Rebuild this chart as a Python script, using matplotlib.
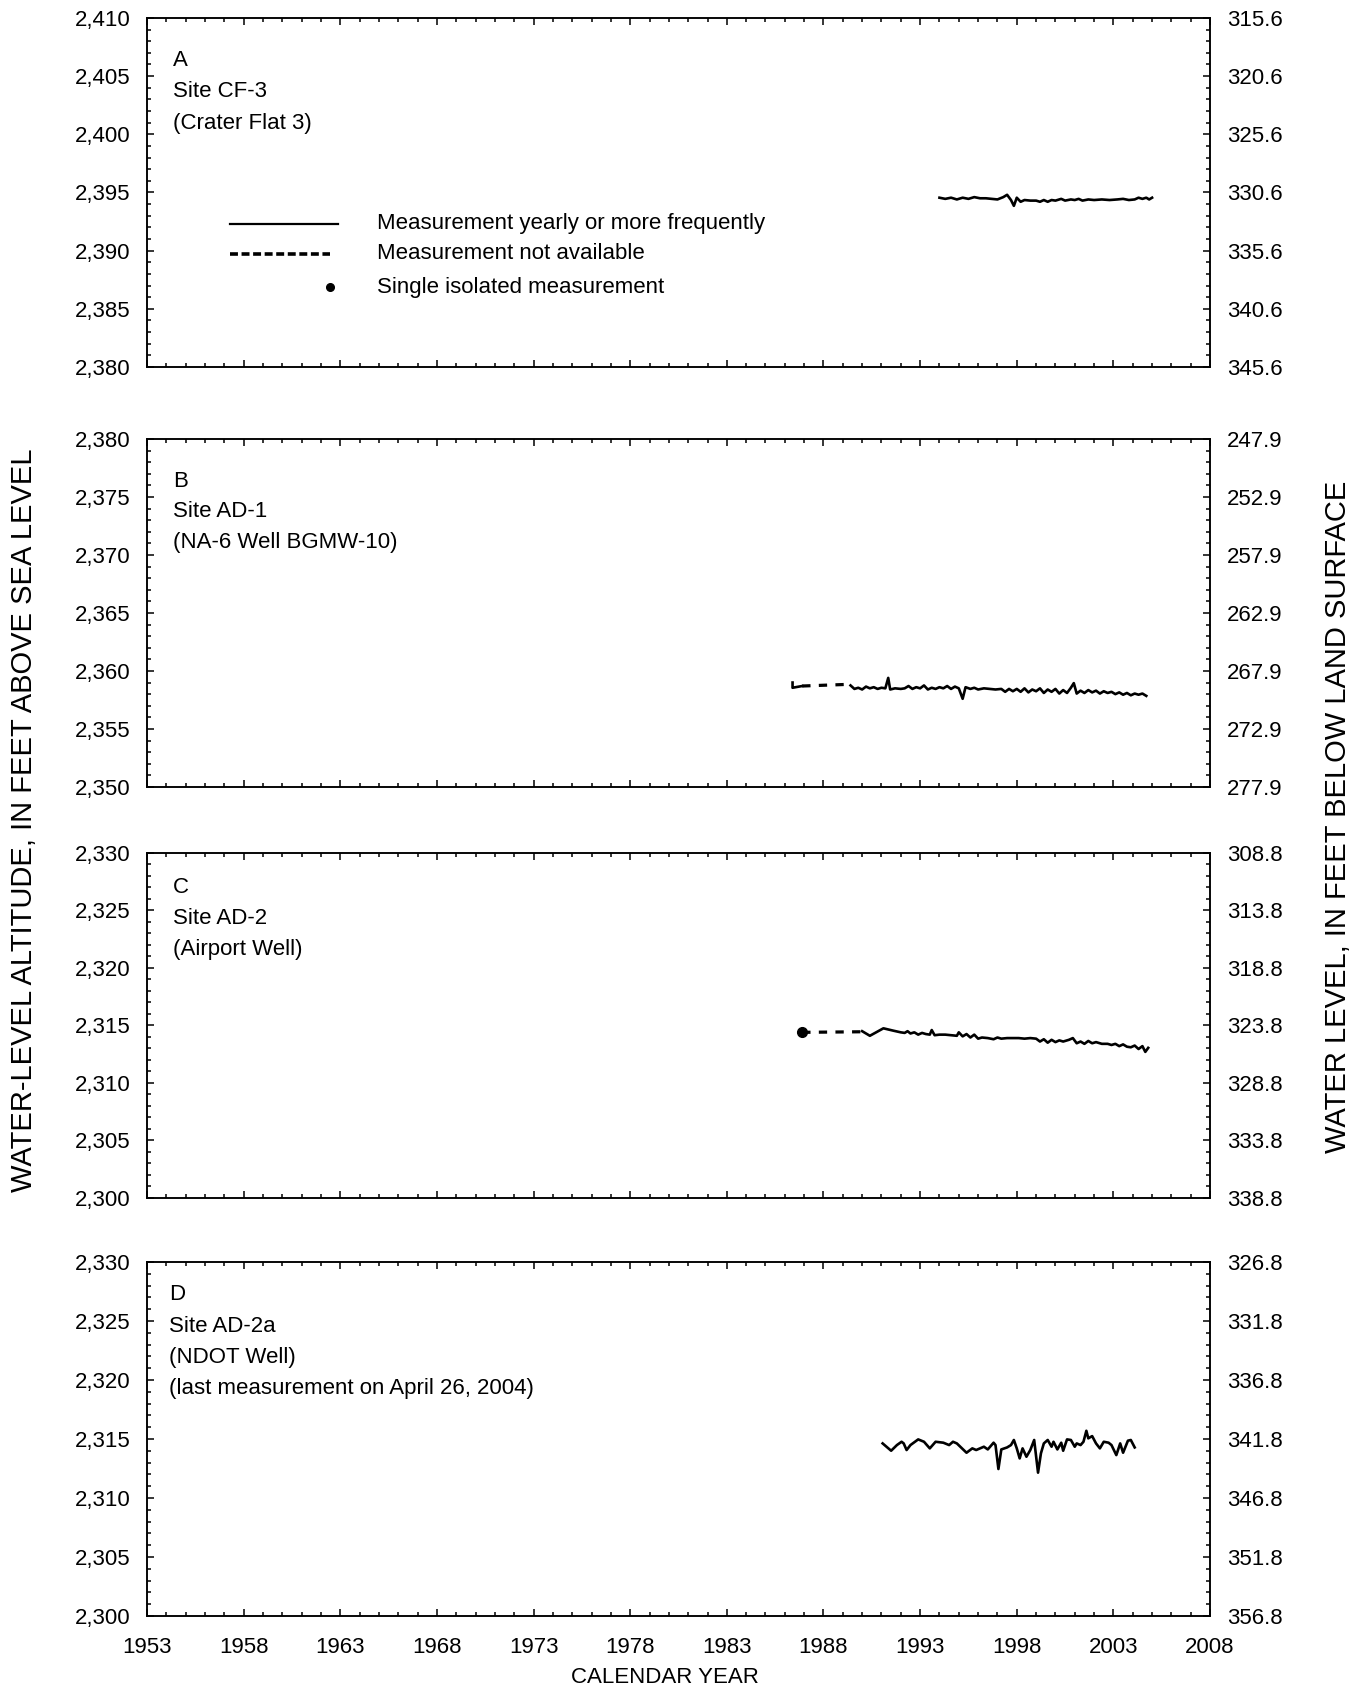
import matplotlib
matplotlib.use('Agg')
import matplotlib.pyplot as plt
from matplotlib.ticker import MultipleLocator, FixedLocator, FuncFormatter
import numpy as np

plt.rcParams['font.family'] = ['Liberation Sans', 'DejaVu Sans']

panel_ids = ['A', 'B', 'C', 'D']
panel_text = [
    ['A', 'Site CF-3', '(Crater Flat 3)'],
    ['B', 'Site AD-1', '(NA-6 Well BGMW-10)'],
    ['C', 'Site AD-2', '(Airport Well)'],
    ['D', 'Site AD-2a', '(NDOT Well)', '(last measurement on April 26, 2004)'],
]
alt_bottom = [2380, 2350, 2300, 2300]
alt_top = [2410, 2380, 2330, 2330]
depth_top = [315.6, 247.9, 308.8, 326.8]   # right axis value at top of panel

# A: CF-3
a_year = [1994.0, 1994.3, 1994.6, 1994.9, 1995.2, 1995.5, 1995.8, 1996.1, 1996.4, 1996.7,
          1997.0, 1997.3, 1997.5, 1997.7, 1997.85, 1998.0, 1998.2, 1998.4, 1998.7, 1999.0,
          1999.2, 1999.4, 1999.6, 1999.8, 2000.0, 2000.3, 2000.5, 2000.8, 2001.0, 2001.2,
          2001.4, 2001.7, 2002.0, 2002.4, 2002.8, 2003.2, 2003.5, 2003.8, 2004.1, 2004.3,
          2004.5, 2004.7, 2004.85, 2005.0]
a_alt = [2394.55, 2394.45, 2394.55, 2394.40, 2394.55, 2394.45, 2394.60, 2394.50, 2394.50, 2394.45,
         2394.40, 2394.60, 2394.80, 2394.35, 2393.85, 2394.55, 2394.20, 2394.35, 2394.30, 2394.30,
         2394.20, 2394.35, 2394.20, 2394.35, 2394.30, 2394.45, 2394.30, 2394.40, 2394.35, 2394.45,
         2394.30, 2394.40, 2394.35, 2394.40, 2394.35, 2394.40, 2394.45, 2394.35, 2394.40, 2394.55,
         2394.45, 2394.55, 2394.40, 2394.55]

# B: AD-1
b_early_year = [1986.4, 1986.4, 1986.9]
b_early_alt = [2359.0, 2358.55, 2358.7]
b_gap_year = [1986.9, 1989.4]
b_gap_alt = [2358.7, 2358.85]
b_year = [1989.4, 1989.6, 1989.8, 1990.0, 1990.2, 1990.4, 1990.6, 1990.8, 1991.0, 1991.2,
          1991.35, 1991.45, 1991.7, 1992.0, 1992.2, 1992.4, 1992.6, 1992.8, 1993.0, 1993.2,
          1993.4, 1993.6, 1993.8, 1994.0, 1994.2, 1994.4, 1994.6, 1994.8, 1995.0, 1995.2,
          1995.35, 1995.6, 1995.8, 1996.0, 1996.3, 1996.6, 1996.9, 1997.2, 1997.4, 1997.6,
          1997.8, 1998.0, 1998.2, 1998.4, 1998.6, 1998.8, 1999.0, 1999.2, 1999.4, 1999.6,
          1999.8, 2000.0, 2000.2, 2000.4, 2000.6, 2000.8, 2000.95, 2001.1, 2001.3, 2001.5,
          2001.7, 2001.9, 2002.1, 2002.3, 2002.5, 2002.7, 2002.9, 2003.1, 2003.3, 2003.5,
          2003.7, 2003.9, 2004.1, 2004.3, 2004.5, 2004.7]
b_alt = [2358.75, 2358.45, 2358.55, 2358.40, 2358.65, 2358.50, 2358.60, 2358.45, 2358.55, 2358.50,
         2359.40, 2358.40, 2358.50, 2358.45, 2358.50, 2358.70, 2358.45, 2358.60, 2358.50, 2358.75,
         2358.40, 2358.55, 2358.45, 2358.60, 2358.50, 2358.70, 2358.45, 2358.65, 2358.50, 2357.60,
         2358.60, 2358.45, 2358.55, 2358.40, 2358.50, 2358.45, 2358.40, 2358.45, 2358.20, 2358.45,
         2358.25, 2358.45, 2358.20, 2358.50, 2358.15, 2358.40, 2358.25, 2358.50, 2358.10, 2358.40,
         2358.20, 2358.45, 2358.05, 2358.35, 2358.10, 2358.55, 2358.95, 2358.05, 2358.30, 2358.10,
         2358.35, 2358.15, 2358.30, 2358.05, 2358.25, 2358.10, 2358.20, 2358.00, 2358.15, 2357.95,
         2358.10, 2357.90, 2358.05, 2357.95, 2358.05, 2357.85]

# C: AD-2
c_single_year = [1986.9]
c_single_alt = [2314.4]
c_gap_year = [1986.9, 1990.0]
c_gap_alt = [2314.4, 2314.45]
c_year = [1990.0, 1990.4, 1991.1, 1991.6, 1992.0, 1992.2, 1992.35, 1992.5, 1992.7, 1992.9,
          1993.1, 1993.3, 1993.5, 1993.6, 1993.75, 1994.0, 1994.3, 1994.6, 1994.9, 1995.0,
          1995.2, 1995.4, 1995.6, 1995.8, 1996.0, 1996.2, 1996.5, 1996.8, 1997.0, 1997.2,
          1997.5, 1997.8, 1998.1, 1998.4, 1998.7, 1999.0, 1999.2, 1999.4, 1999.6, 1999.8,
          2000.0, 2000.2, 2000.4, 2000.7, 2000.9, 2001.1, 2001.3, 2001.5, 2001.7, 2001.9,
          2002.1, 2002.4, 2002.7, 2002.9, 2003.1, 2003.3, 2003.5, 2003.7, 2003.9, 2004.1,
          2004.3, 2004.5, 2004.65, 2004.8]
c_alt = [2314.50, 2314.10, 2314.75, 2314.55, 2314.40, 2314.35, 2314.50, 2314.30, 2314.40, 2314.20,
         2314.35, 2314.25, 2314.20, 2314.60, 2314.15, 2314.20, 2314.20, 2314.15, 2314.10, 2314.40,
         2314.05, 2314.25, 2313.95, 2314.20, 2313.85, 2313.95, 2313.90, 2313.80, 2313.95, 2313.85,
         2313.90, 2313.90, 2313.90, 2313.85, 2313.90, 2313.85, 2313.60, 2313.80, 2313.50, 2313.75,
         2313.55, 2313.70, 2313.60, 2313.75, 2313.90, 2313.45, 2313.60, 2313.40, 2313.65, 2313.45,
         2313.55, 2313.40, 2313.40, 2313.30, 2313.40, 2313.20, 2313.35, 2313.15, 2313.10, 2313.25,
         2312.95, 2313.20, 2312.70, 2313.05]

# D: AD-2a
d_year = [1991.06, 1991.5, 1991.8, 1992.04, 1992.15, 1992.3, 1992.5, 1992.9, 1993.2, 1993.5,
          1993.8, 1994.2, 1994.5, 1994.7, 1994.9, 1995.4, 1995.7, 1995.9, 1996.3, 1996.5,
          1996.8, 1996.9, 1997.05, 1997.2, 1997.5, 1997.7, 1997.85, 1998.0, 1998.15, 1998.3,
          1998.5, 1998.7, 1998.9, 1999.1, 1999.25, 1999.4, 1999.6, 1999.8, 1999.9, 2000.1,
          2000.3, 2000.4, 2000.6, 2000.8, 2001.0, 2001.1, 2001.3, 2001.45, 2001.6, 2001.7,
          2001.9, 2002.1, 2002.3, 2002.5, 2002.75, 2002.9, 2003.15, 2003.35, 2003.5, 2003.75,
          2003.9, 2004.1]
d_alt = [2314.63, 2314.01, 2314.49, 2314.77, 2314.63, 2314.07, 2314.49, 2314.97, 2314.77, 2314.21,
         2314.77, 2314.69, 2314.49, 2314.77, 2314.63, 2313.84, 2314.21, 2314.07, 2314.35, 2314.12,
         2314.69, 2314.49, 2312.46, 2314.12, 2314.29, 2314.49, 2314.92, 2314.21, 2313.36, 2314.21,
         2313.50, 2314.07, 2314.92, 2312.15, 2313.79, 2314.63, 2314.92, 2314.35, 2314.77, 2314.12,
         2314.69, 2314.01, 2314.97, 2314.92, 2314.35, 2314.63, 2314.49, 2314.77, 2315.70, 2315.06,
         2315.25, 2314.63, 2314.21, 2314.77, 2314.69, 2314.49, 2313.64, 2314.63, 2313.84, 2314.86,
         2314.92, 2314.29]

x_lo, x_hi = 1953, 2008
x_major = list(range(1953, 2009, 5))

# ---- layout (figure fractions) ----
fig = plt.figure(figsize=(13.67, 16.92), dpi=100)
left, width = 0.1075, 0.7777
bottoms = [0.7831, 0.5349, 0.2920, 0.0449]
heights = [0.2063, 0.2057, 0.2039, 0.2092]
text_y0 = [0.877, 0.879, 0.899, 0.907]
text_dy = [0.089, 0.089, 0.090, 0.088]
text_x = [0.0245, 0.0245, 0.0245, 0.021]

lw = 1.9
dash = (2.6, 2.6)
fs = 16

axes = []
for i in range(4):
    ax = fig.add_axes([left, bottoms[i], width, heights[i]])
    ax.set_xlim(x_lo, x_hi)
    ax.set_ylim(alt_bottom[i], alt_top[i])
    ax.xaxis.set_major_locator(FixedLocator(x_major))
    ax.xaxis.set_minor_locator(MultipleLocator(1))
    ax.yaxis.set_major_locator(MultipleLocator(5))
    ax.yaxis.set_minor_locator(MultipleLocator(1))
    ax.yaxis.set_major_formatter(FuncFormatter(lambda v, p: '{:,.0f}'.format(v)))
    ax.tick_params(which='both', direction='in', top=True, bottom=True, left=True, right=False,
                   labelsize=fs, pad=12, width=1.1)
    ax.tick_params(which='major', length=5)
    ax.tick_params(which='minor', length=3.2)
    if i < 3:
        ax.tick_params(labelbottom=False)
    else:
        ax.tick_params(axis='x', pad=15)
    for s in ax.spines.values():
        s.set_linewidth(1.1)

    ax2 = ax.twinx()
    ax2.set_ylim(depth_top[i] + (alt_top[i] - alt_bottom[i]), depth_top[i])
    maj = np.arange(0, alt_top[i] - alt_bottom[i] + 0.1, 5) + depth_top[i]
    mnr = np.arange(0, alt_top[i] - alt_bottom[i] + 0.1, 1) + depth_top[i]
    ax2.yaxis.set_major_locator(FixedLocator(maj))
    ax2.yaxis.set_minor_locator(FixedLocator(mnr))
    ax2.yaxis.set_major_formatter(FuncFormatter(lambda v, p: '%.1f' % v))
    ax2.tick_params(which='both', direction='in', labelsize=fs, pad=12, width=1.1)
    ax2.tick_params(which='major', length=5)
    ax2.tick_params(which='minor', length=3.2)
    for s in ax2.spines.values():
        s.set_linewidth(1.1)

    for k, t in enumerate(panel_text[i]):
        ax.text(text_x[i], text_y0[i] - k * text_dy[i], t, transform=ax.transAxes,
                fontsize=fs, ha='left', va='center')
    axes.append(ax)

axA, axB, axC, axD = axes

# hydrographs
axA.plot(a_year, a_alt, color='black', lw=lw)

axB.plot(b_early_year, b_early_alt, color='black', lw=lw)
axB.plot(b_gap_year, b_gap_alt, color='black', lw=lw + 0.4, dashes=dash)
axB.plot(b_year, b_alt, color='black', lw=lw)

axC.plot(c_gap_year, c_gap_alt, color='black', lw=lw + 0.4, dashes=dash)
axC.plot(c_single_year, c_single_alt, 'o', color='black', ms=7)
axC.plot(c_year, c_alt, color='black', lw=lw)

axD.plot(d_year, d_alt, color='black', lw=lw)

# explanation (legend) in panel A
legend_labels = ['Measurement yearly or more frequently', 'Measurement not available',
                 'Single isolated measurement']
axA.plot([0.078, 0.180], [0.410, 0.410], color='black', lw=1.6, transform=axA.transAxes)
axA.plot([0.078, 0.172], [0.325, 0.325], color='black', lw=2.6, dashes=(2.2, 1.0),
         transform=axA.transAxes)
axA.plot([0.172], [0.229], 'o', color='black', ms=5.5, transform=axA.transAxes)
for k, (lab, yy) in enumerate(zip(legend_labels, [0.410, 0.325, 0.229])):
    axA.text(0.216, yy, lab, transform=axA.transAxes, fontsize=fs, ha='left', va='center')

# axis titles
fig.text(0.0175, 0.5154, 'WATER-LEVEL ALTITUDE, IN FEET ABOVE SEA LEVEL', rotation=90,
         ha='center', va='center', fontsize=21)
fig.text(0.979, 0.517, 'WATER LEVEL, IN FEET BELOW LAND SURFACE', rotation=90,
         ha='center', va='center', fontsize=21)
fig.text(0.4865, 0.0085, 'CALENDAR YEAR', ha='center', va='center', fontsize=fs)

fig.savefig('out.png', dpi=100)
